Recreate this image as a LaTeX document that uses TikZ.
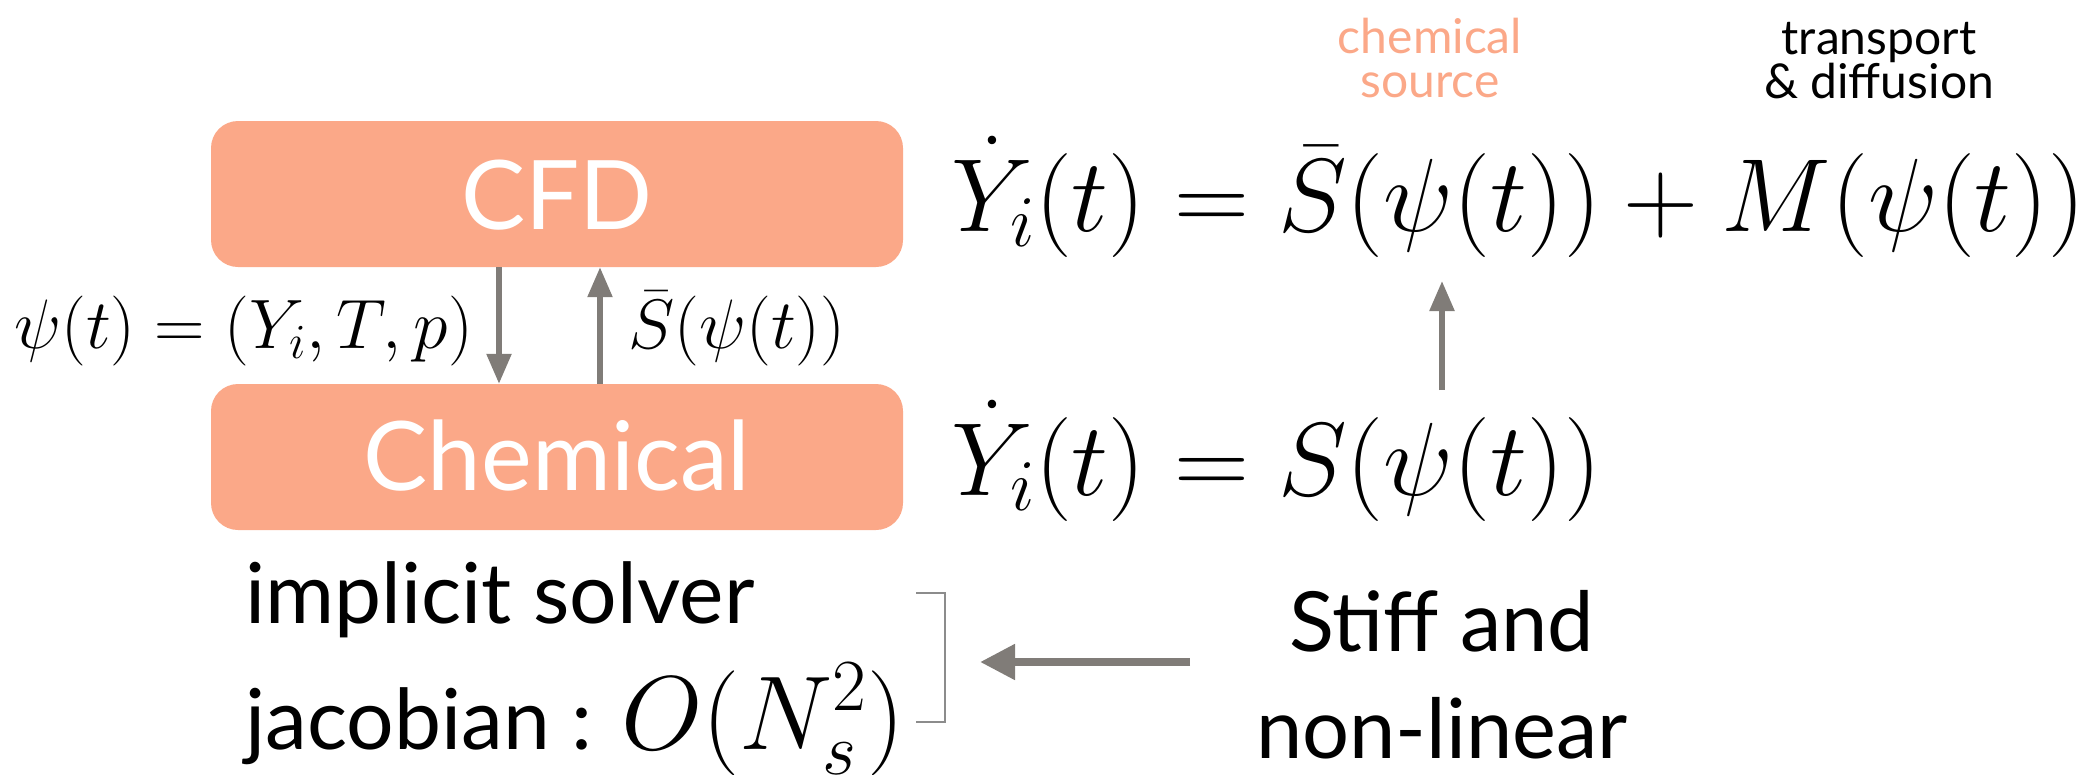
\RequirePackage{fix-cm}
\documentclass[tikz,border=0pt]{standalone}
\usepackage{fontspec}
\setmainfont{Lato}
\usetikzlibrary{arrows.meta}
\definecolor{salmon}{RGB}{251,168,136}
\definecolor{arrgray}{RGB}{128,124,120}
\definecolor{brgray}{RGB}{140,140,140}
\begin{document}
\begin{tikzpicture}[x=1pt,y=-1pt,
  box/.style={fill=salmon, rounded corners=27pt, minimum width=692pt, minimum height=146pt, inner sep=0pt},
  boxtext/.style={text=white, font=\fontsize{96}{100}\selectfont, inner sep=0pt, anchor=base},
  garrow/.style={draw=arrgray, line width=5.5pt, -{Triangle[length=30pt,width=24pt]}},
  barrow/.style={draw=arrgray, line width=8pt, -{Triangle[length=35pt,width=34pt]}},
  smath/.style={font=\fontsize{70}{80}\selectfont, inner sep=0pt},
  bmath/.style={font=\fontsize{104}{120}\selectfont, inner sep=0pt},
  small/.style={font=\fontsize{48}{44}\selectfont, align=center, inner sep=0pt},
  big/.style={font=\fontsize{84}{107}\selectfont, inner sep=0pt},
  brk/.style={draw=brgray, line width=2.5pt}]
\useasboundingbox (0,0) rectangle (2097,774);
\node[box] (cfd) at (557,194) {};
\node[box] (chem) at (557,457) {};
\node[boxtext] (cfdt) at (557,229) {CFD};
\node[boxtext] (chemt) at (557,490) {Chemical};
\draw[garrow] ([xshift=-58pt]cfd.south) -- ([xshift=-58pt]chem.north);
\draw[garrow] ([xshift=43pt]chem.north) -- ([xshift=43pt]cfd.south);
\node[smath, anchor=base east] (psi) at (473,348) {$\psi(t)=(Y_i,T,p)$};
\node[smath, anchor=base west] (sbar) at (628,348) {$\bar{S}(\psi(t))$};
\node[bmath, anchor=base west] (eq1) at (951,231) {$\dot{Y}_i(t)=\bar{S}(\psi(t))+M(\psi(t))$};
\node[bmath, anchor=base west] (eq2) at (951,495) {$\dot{Y}_i(t)=S(\psi(t))$};
\coordinate (ua) at (1442,390);
\coordinate (ub) at (1442,281);
\draw[garrow] (ua) -- (ub);
\node[small, text=salmon] (src) at (1430,58) {chemical\\source};
\node[small] (trans) at (1879,61) {transport\\\& diffusion};
\node[big, anchor=base west] (impl) at (245,623) {implicit solver};
\node[big, anchor=base west] (jac) at (245,749) {jacobian : {\fontsize{105}{107}\selectfont$O(N_s^2)$}};
\draw[brk] (916,593) -- (945,593) -- (945,722) -- (916,722);
\node[align=center, inner sep=0pt, font=\fontsize{83}{107}\selectfont] (stiff) at (1442,675) {Stiff and\\non-linear};
\coordinate (la) at (1190,662);
\coordinate (lb) at (980,662);
\draw[barrow] (la) -- (lb);
\end{tikzpicture}
\end{document}
